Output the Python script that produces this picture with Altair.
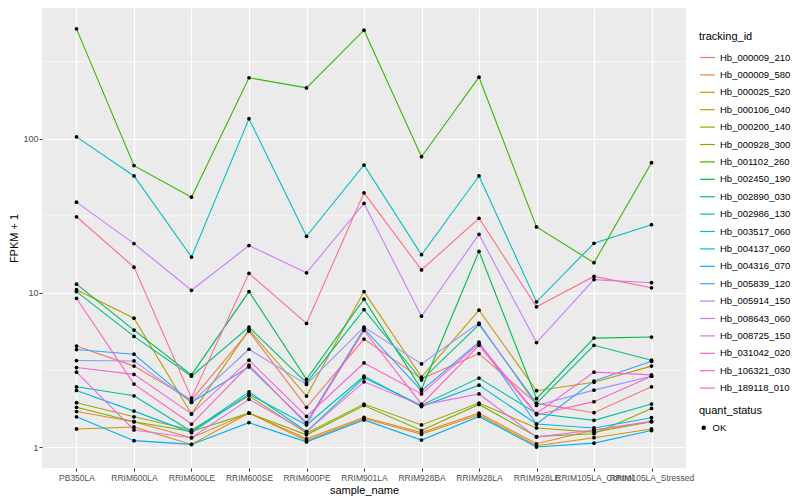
import altair as alt
import pandas as pd

samples = ["PB350LA", "RRIM600LA", "RRIM600LE", "RRIM600SE", "RRIM600PE", "RRIM901LA",
           "RRIM928BA", "RRIM928LA", "RRIM928LE", "RRIM105LA_Control", "RRIM105LA_Stressed"]

tracking_ids = ["Hb_000009_210", "Hb_000009_580", "Hb_000025_520", "Hb_000106_040", "Hb_000200_140",
                "Hb_000928_300", "Hb_001102_260", "Hb_002450_190", "Hb_002890_030", "Hb_002986_130",
                "Hb_003517_060", "Hb_004137_060", "Hb_004316_070", "Hb_005839_120", "Hb_005914_150",
                "Hb_008643_060", "Hb_008725_150", "Hb_031042_020", "Hb_106321_030", "Hb_189118_010"]

palette = ["#F8766D", "#EA8331", "#D89000", "#C09B00", "#A3A500", "#7CAE00", "#39B600", "#00BB4E",
           "#00BF7D", "#00C1A3", "#00BFC4", "#00BAE0", "#00B0F6", "#35A2FF", "#9590FF", "#C77CFF",
           "#E76BF3", "#FA62DB", "#FF62BC", "#FF6C91"]

# FPKM + 1, one list per tracking_id, in sample order
Hb_000009_210 = [4.52, 3.35, 2.02, 5.65, 1.81, 5.02, 2.77, 4.04, 1.92, 1.67, 2.46]
Hb_000009_580 = [1.70, 1.46, 1.15, 1.66, 1.13, 1.56, 1.24, 1.66, 1.05, 1.29, 1.46]
Hb_000025_520 = [1.31, 1.35, 1.04, 1.66, 1.10, 1.53, 1.21, 1.62, 1.02, 1.15, 1.31]
Hb_000106_040 = [10.5, 6.86, 1.64, 5.77, 2.14, 10.2, 2.84, 7.72, 2.32, 2.63, 3.35]
Hb_000200_140 = [1.94, 1.57, 1.29, 2.15, 1.23, 1.90, 1.39, 1.93, 1.33, 1.25, 1.46]
Hb_000928_300 = [1.81, 1.46, 1.26, 1.66, 1.20, 1.86, 1.28, 1.89, 1.17, 1.22, 1.78]
Hb_001102_260 = [517, 67, 41.8, 249, 214, 507, 76.5, 251, 26.8, 15.7, 70]
Hb_002450_190 = [11.4, 5.74, 2.94, 10.2, 2.75, 9.1, 2.37, 18.6, 2.06, 5.09, 5.17]
Hb_002890_030 = [10.2, 5.22, 2.88, 6.0, 2.61, 7.8, 2.72, 6.24, 1.92, 4.57, 3.66]
Hb_002986_130 = [2.46, 2.15, 1.26, 2.28, 1.26, 2.81, 1.87, 2.80, 1.65, 1.49, 1.90]
Hb_003517_060 = [103, 57.4, 17.1, 135, 23.3, 67.6, 17.7, 57.4, 8.75, 21, 27.7]
Hb_004137_060 = [2.33, 1.71, 1.24, 2.20, 1.39, 2.88, 1.83, 2.52, 1.41, 1.33, 1.55]
Hb_004316_070 = [1.57, 1.10, 1.04, 1.44, 1.08, 1.50, 1.11, 1.58, 1.00, 1.06, 1.28]
Hb_005839_120 = [4.29, 4.00, 1.95, 3.31, 1.44, 5.86, 2.32, 4.80, 1.41, 2.68, 3.60]
Hb_005914_150 = [3.64, 3.62, 1.95, 4.31, 2.55, 6.00, 3.46, 6.37, 1.86, 2.34, 2.88]
Hb_008643_060 = [38.8, 20.9, 10.4, 20.3, 13.5, 38.1, 7.06, 24.0, 4.76, 12.2, 11.65]
Hb_008725_150 = [3.06, 1.29, 1.15, 2.04, 1.26, 2.65, 1.87, 2.21, 1.16, 1.29, 1.47]
Hb_031042_020 = [3.28, 2.96, 1.64, 3.66, 1.58, 3.51, 2.21, 4.69, 1.65, 3.06, 2.94]
Hb_106321_030 = [9.23, 2.56, 1.41, 3.40, 1.41, 5.71, 1.90, 4.57, 1.62, 1.97, 2.88]
Hb_189118_010 = [31.2, 14.7, 2.08, 13.4, 6.34, 44.6, 14.1, 30.5, 8.12, 12.8, 10.8]

series = [Hb_000009_210, Hb_000009_580, Hb_000025_520, Hb_000106_040, Hb_000200_140,
          Hb_000928_300, Hb_001102_260, Hb_002450_190, Hb_002890_030, Hb_002986_130,
          Hb_003517_060, Hb_004137_060, Hb_004316_070, Hb_005839_120, Hb_005914_150,
          Hb_008643_060, Hb_008725_150, Hb_031042_020, Hb_106321_030, Hb_189118_010]

y_breaks = [1, 10, 100]
y_minor = [3.1623, 31.623, 316.23]

rows = []
for tid, vals in zip(tracking_ids, series):
    for s, v in zip(samples, vals):
        rows.append({"tracking_id": tid, "sample_name": s, "value": v, "quant_status": "OK"})
df = pd.DataFrame(rows)
minor_df = pd.DataFrame({"value": y_minor})

FONT = "Liberation Sans"

x_enc = alt.X("sample_name:N", sort=samples,
              scale=alt.Scale(type="point", padding=0.6),
              axis=alt.Axis(title="sample_name", labelAngle=0, labelOverlap=False, grid=True,
                            labelFontSize=8.5, labelPadding=2, titlePadding=3))
y_enc = alt.Y("value:Q",
              scale=alt.Scale(type="log", domain=[0.731, 706], nice=False),
              axis=alt.Axis(title="FPKM + 1", values=y_breaks, format="d",
                            labelFontSize=9, labelPadding=1, titlePadding=3))

minor = alt.Chart(minor_df).mark_rule(color="white", strokeWidth=0.6).encode(
    y=alt.Y("value:Q")
)

lines = alt.Chart(df).mark_line(strokeWidth=1.1).encode(
    x=x_enc,
    y=y_enc,
    color=alt.Color("tracking_id:N", sort=tracking_ids,
                    scale=alt.Scale(domain=tracking_ids, range=palette),
                    legend=alt.Legend(title="tracking_id", symbolType="stroke", symbolSize=220,
                                      symbolStrokeWidth=1.2, orient="none", legendX=657, legendY=23,
                                      rowPadding=4.4, labelFontSize=9.5, titleFontSize=11,
                                      titlePadding=7)),
    detail="tracking_id:N",
)

points = alt.Chart(df).mark_point(filled=True, color="black", size=14, opacity=1).encode(
    x=alt.X("sample_name:N", sort=samples),
    y=alt.Y("value:Q"),
    shape=alt.Shape("quant_status:N", scale=alt.Scale(range=["circle"]),
                    legend=alt.Legend(title="quant_status", symbolFillColor="black",
                                      symbolStrokeColor="black", symbolSize=20,
                                      orient="none", legendX=657, legendY=397,
                                      labelFontSize=9.5, titleFontSize=11, titlePadding=7)),
)

chart = alt.layer(minor, lines, points).properties(
    width=644, height=460, padding={"left": 0, "top": 0, "right": 0, "bottom": 0}
).configure(font=FONT).configure_view(
    fill="#EBEBEB", stroke=None
).configure_axis(
    gridColor="white", gridWidth=1.2, domain=False, tickColor="#333333", tickSize=3,
    labelColor="#4D4D4D", titleColor="black", titleFontWeight="normal", titleFontSize=11,
    labelFont=FONT, titleFont=FONT
).configure_legend(
    titleFontWeight="normal", labelColor="black", titleColor="black", labelFont=FONT, titleFont=FONT
)

chart.save("out.html", embed_options={"renderer": "svg", "actions": False})
